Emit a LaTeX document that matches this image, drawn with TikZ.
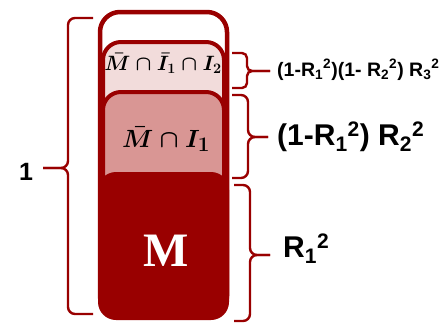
\documentclass[tikz,border=0pt]{standalone}
\usepackage{fontspec}
\usepackage{amsmath}
\setmainfont{Liberation Sans}
\newfontfamily\serifbold{Liberation Serif}
\definecolor{darkred}{HTML}{990000}
\definecolor{palepink}{HTML}{F2DCDB}
\definecolor{midpink}{HTML}{D99694}
\tikzset{
  layer/.style={draw=darkred,line width=4pt,rounded corners=18pt},
  bracket/.style={draw=darkred,line width=2.4pt,rounded corners=7pt},
  biglabel/.style={font=\fontsize{30}{34}\selectfont\bfseries,inner sep=0pt},
}
\begin{document}
\begin{tikzpicture}[x=1pt,y=-1pt]
\useasboundingbox (0,0) rectangle (447,324);

% stacked shares
\draw[layer,fill=white,line width=4.5pt,rounded corners=20pt] (100,12) rectangle (227,316);
\draw[layer,fill=palepink] (103,42) rectangle (224,316);
\draw[layer,fill=midpink] (103,92) rectangle (224,316);
\fill[darkred,rounded corners=18pt] (98,172) rectangle (229,320);

\node[font=\fontsize{20.5}{24}\selectfont\mathversion{bold}] (third) at (163,63) {$\bar M\cap\bar I_1\cap I_2$};
\node[font=\fontsize{29}{32}\selectfont\mathversion{bold}] (second) at (166,139) {$\bar M\cap I_1$};
\node[text=white] (first) at (166,251) {\fontsize{48}{52}\serifbold\bfseries M};

% braces
\draw[bracket] (93,18) -- (68,18) -- (68,168) -- (43,168);
\draw[bracket] (43,168) -- (68,168) -- (68,314) -- (93,314);
\node[font=\fontsize{25}{28}\selectfont\bfseries] (total) at (26,172) {1};

\draw[bracket,rounded corners=5pt] (232,53) -- (247,53) -- (247,71) -- (270,71);
\draw[bracket,rounded corners=5pt] (270,71) -- (247,71) -- (247,88) -- (232,88);
\node[anchor=west,font=\fontsize{19.5}{22}\selectfont\bfseries,inner sep=0pt] (r3) at (277,70)
  {(1-R\textsubscript{1}\textsuperscript{2})(1- R\textsubscript{2}\textsuperscript{2}) R\textsubscript{3}\textsuperscript{2}};

\draw[bracket] (232,95) -- (248,95) -- (248,137) -- (268,137);
\draw[bracket] (268,137) -- (248,137) -- (248,178) -- (232,178);
\node[biglabel,anchor=west] (r2) at (277,137)
  {(1-R\textsubscript{1}\textsuperscript{2}) R\textsubscript{2}\textsuperscript{2}};

\draw[bracket] (234,185) -- (250,185) -- (250,255) -- (270,255);
\draw[bracket] (270,255) -- (250,255) -- (250,321) -- (234,321);
\node[biglabel,anchor=west] (r1) at (283,249) {R\textsubscript{1}\textsuperscript{2}};
\end{tikzpicture}
\end{document}
